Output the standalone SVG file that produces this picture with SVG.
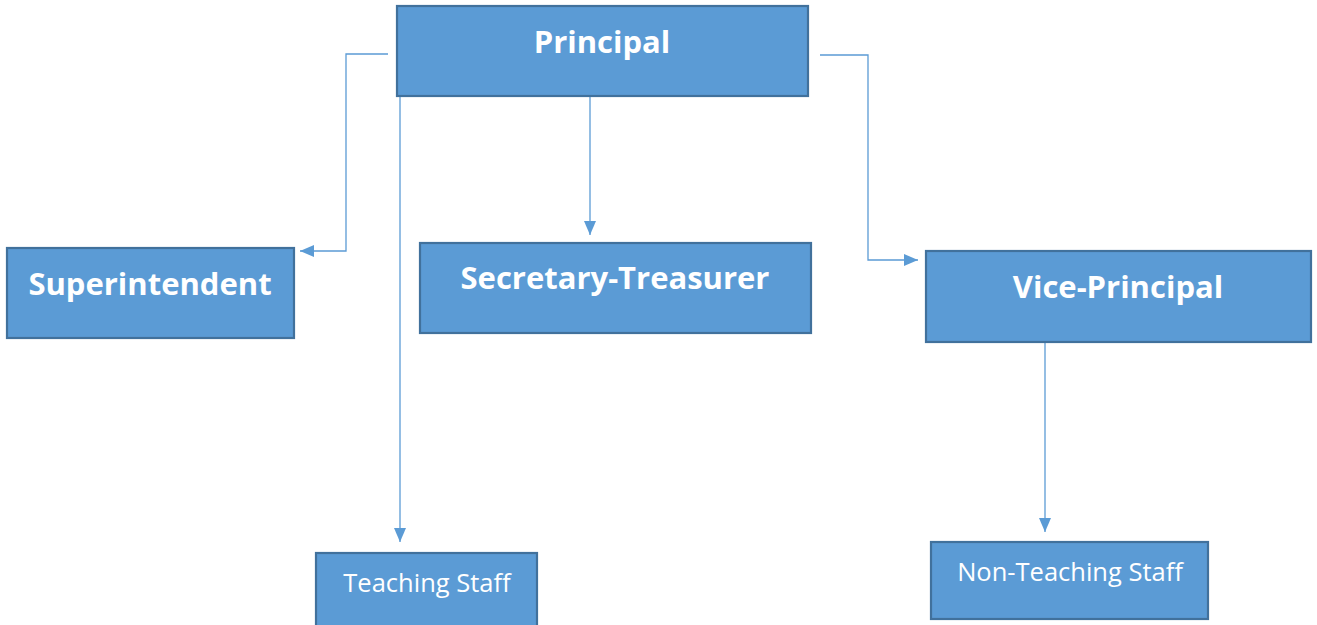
<svg xmlns="http://www.w3.org/2000/svg" width="1317" height="625" viewBox="0 0 1317 625">
  <defs>
    <style>
      .box { fill: #5B9BD5; stroke: #41719C; stroke-width: 2.2; }
      .link { fill: none; stroke: #5B9BD5; stroke-width: 1.3; }
      .big { font-family: "Open Sans", "Liberation Sans", sans-serif; font-weight: bold; fill: #ffffff; text-anchor: middle; }
      .small { font-family: "Open Sans", "Liberation Sans", sans-serif; fill: #ffffff; text-anchor: middle; }
    </style>
    <marker id="arrow" viewBox="0 0 14 12" refX="14" refY="6" markerWidth="14" markerHeight="12" markerUnits="userSpaceOnUse" orient="auto">
      <path d="M0,0 L14,6 L0,12 Z" fill="#5B9BD5"/>
    </marker>
  </defs>

  <!-- connectors -->
  <g id="connectors">
    <path class="link" d="M388,54 H346 V251 H300" marker-end="url(#arrow)"/>
    <path class="link" d="M590,96 V235" marker-end="url(#arrow)"/>
    <path class="link" d="M400,96 V542" marker-end="url(#arrow)"/>
    <path class="link" d="M820,55 H868 V260 H918" marker-end="url(#arrow)"/>
    <path class="link" d="M1045,342 V532" marker-end="url(#arrow)"/>
  </g>

  <g id="principal">
    <rect class="box" x="397" y="6" width="411" height="90"/>
    <text class="big" x="602" y="53" font-size="31">Principal</text>
  </g>
  <g id="superintendent">
    <rect class="box" x="7" y="248" width="287" height="90"/>
    <text class="big" x="150" y="295" font-size="31">Superintendent</text>
  </g>
  <g id="secretary-treasurer">
    <rect class="box" x="420" y="243" width="391" height="90"/>
    <text class="big" x="615" y="289" font-size="31">Secretary-Treasurer</text>
  </g>
  <g id="vice-principal">
    <rect class="box" x="926" y="251" width="385" height="91"/>
    <text class="big" x="1118" y="298" font-size="31">Vice-Principal</text>
  </g>
  <g id="teaching-staff">
    <rect class="box" x="316" y="553" width="221" height="80"/>
    <text class="small" x="427" y="592" font-size="25.5">Teaching Staff</text>
  </g>
  <g id="non-teaching-staff">
    <rect class="box" x="931" y="542" width="277" height="77"/>
    <text class="small" x="1070" y="581" font-size="25.5">Non-Teaching Staff</text>
  </g>
</svg>
